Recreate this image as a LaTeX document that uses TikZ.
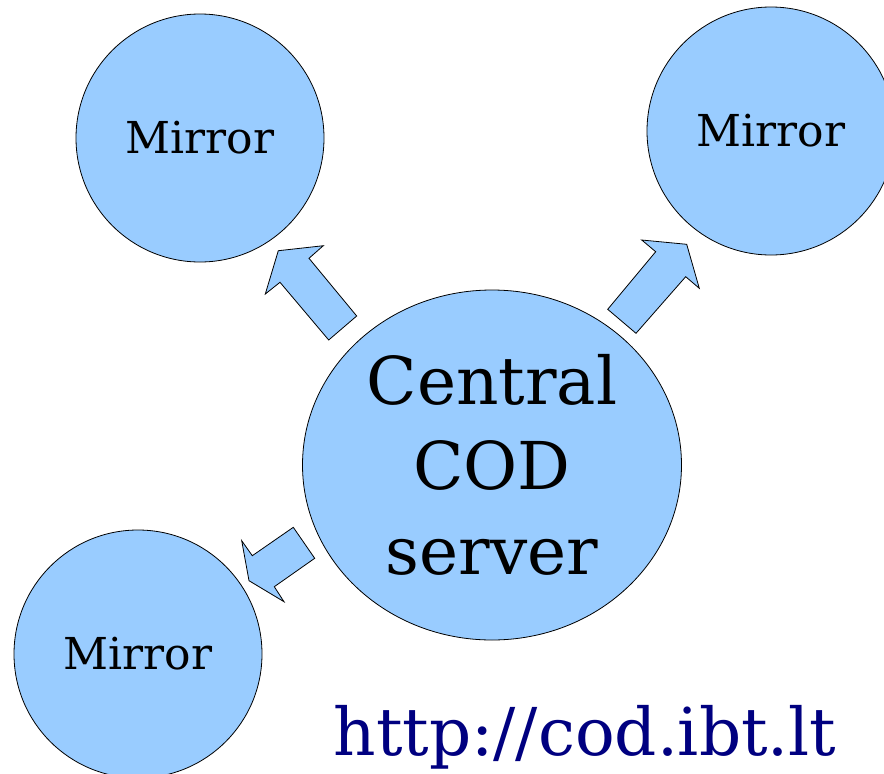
\documentclass[tikz,border=0pt]{standalone}
\usepackage{fontspec}
\setmainfont{DejaVu Serif}
\usetikzlibrary{shapes.geometric}
\definecolor{bubble}{HTML}{99CCFF}
\definecolor{urlblue}{HTML}{000080}
\begin{document}
\begin{tikzpicture}[x=1pt,y=-1pt,
  mirror/.style={circle,draw=black,fill=bubble,line width=0.8pt,minimum size=248pt,inner sep=0pt,font=\fontsize{44}{50}\selectfont},
  blockarrow/.style={draw=black,fill=bubble,line width=0.8pt,line join=miter}]
\useasboundingbox (0,0) rectangle (884,774);
\clip (0,0) rectangle (884,774);
\node[mirror] (m1) at (200,138) {Mirror};
\node[mirror] (m2) at (771,131) {Mirror};
\node[mirror] (m3) at (138,654) {Mirror};
\node[ellipse,draw=black,fill=bubble,line width=0.8pt,minimum width=379pt,minimum height=350pt,inner sep=0pt,align=center,font=\fontsize{66}{85}\selectfont] (c) at (492,465) {Central\\COD\\server};
% arrows
\draw[blockarrow] (278.3,250.7) -- (323.3,245.7) -- (309,258.3) -- (356.7,316) -- (328.7,340) -- (280,282.3) -- (265.3,294) -- cycle;
\draw[blockarrow] (686.7,244.3) -- (699.3,288.3) -- (685.7,276.7) -- (636,333.3) -- (607.7,309.3) -- (655.7,251.7) -- (641.7,240) -- cycle;
\draw[blockarrow] (249,580.7) -- (241.7,540.7) -- (252.3,555.7) -- (293.3,527.3) -- (314.7,558.3) -- (274.3,586.7) -- (284,601.7) -- cycle;
\node[anchor=base,text=urlblue,inner sep=0pt,font=\fontsize{66}{70}\selectfont] (url) at (585,755) {http://cod.ibt.lt};
\end{tikzpicture}
\end{document}
